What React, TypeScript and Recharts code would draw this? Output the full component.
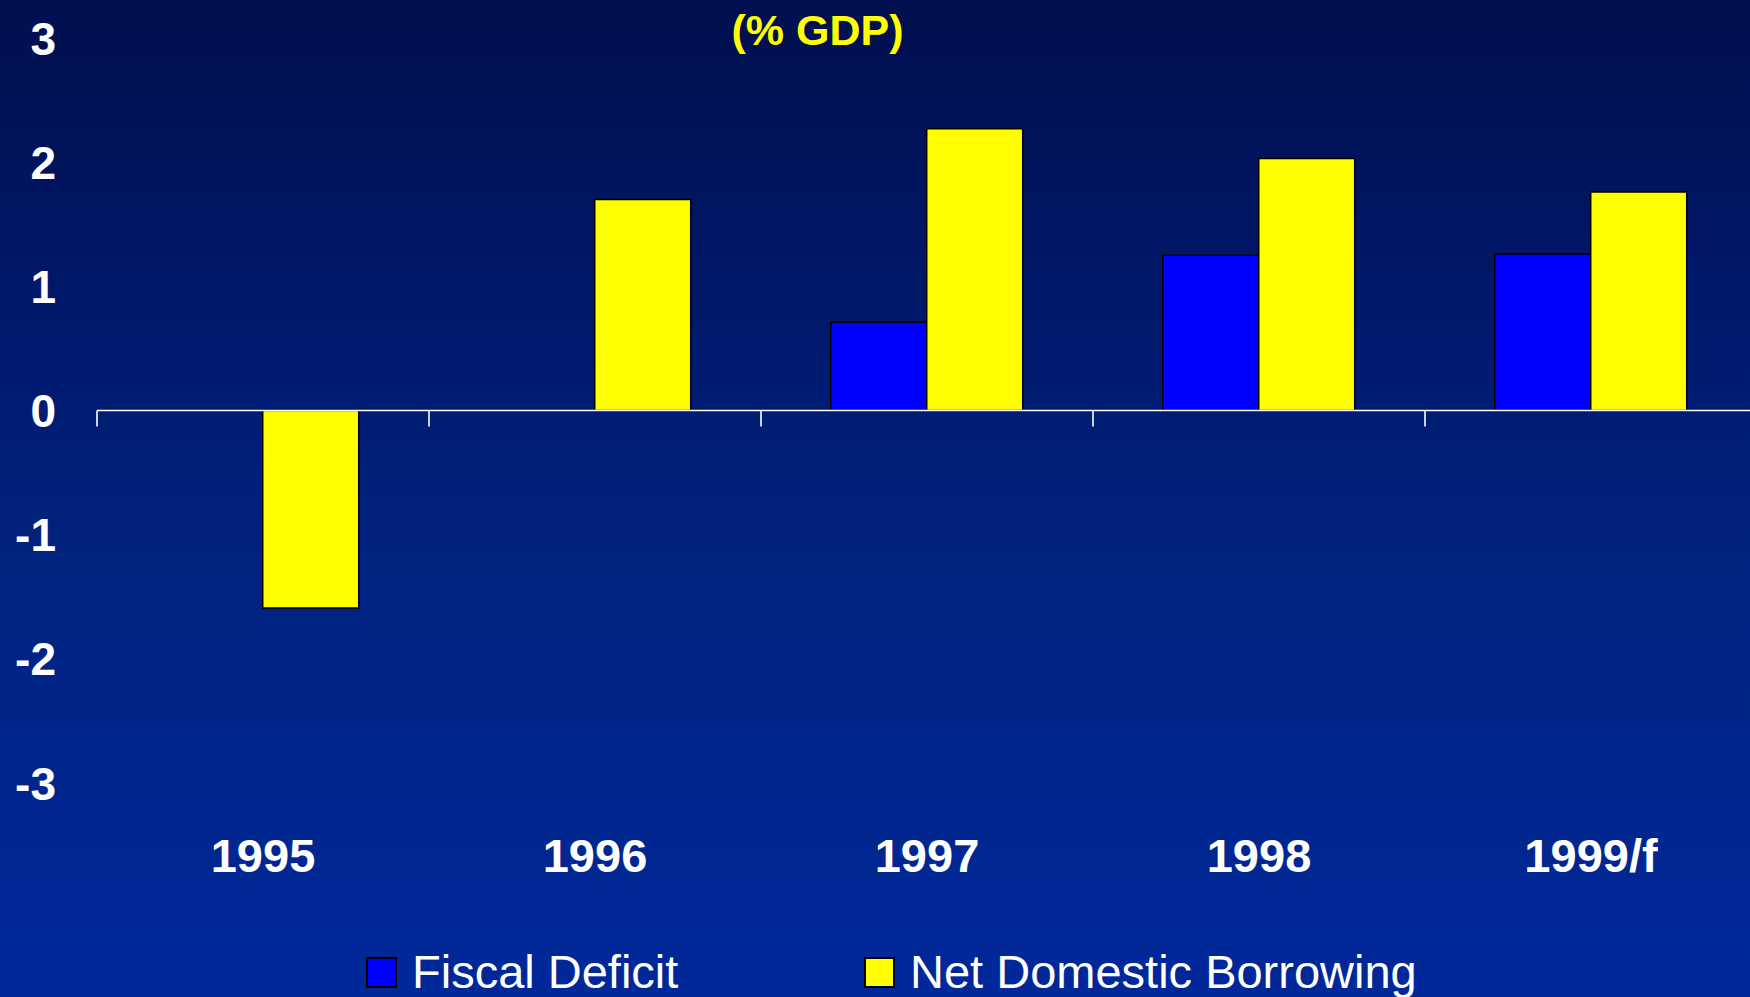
import { Bar, BarChart, Legend, ReferenceLine, XAxis, YAxis } from "recharts";

const years = ["1995", "1996", "1997", "1998", "1999/f"];
const fiscalDeficit = [0, 0, 0.71, 1.25, 1.26];
const netDomesticBorrowing = [-1.59, 1.7, 2.27, 2.03, 1.76];
const yTicks = [-3, -2, -1, 0, 1, 2, 3];

const data = years.map((year, i) => ({
  year,
  fiscal: fiscalDeficit[i],
  borrowing: netDomesticBorrowing[i],
}));

const font = '"Liberation Sans", Arial, sans-serif';

function YTick({ x, y, payload }: any) {
  return (
    <text x={x} y={y} dy="0.36em" textAnchor="end" fill="#fff" fontSize={46} fontWeight="bold" fontFamily={font}>
      {payload.value}
    </text>
  );
}

function XTick({ x, y, payload }: any) {
  return (
    <text x={x} y={y} textAnchor="middle" fill="#fff" fontSize={47} fontWeight="bold" fontFamily={font}>
      {payload.value}
    </text>
  );
}

// zero line with tick marks at the category edges
function ZeroLine({ x1, x2, y1 }: any) {
  const step = (x2 - x1) / years.length;
  return (
    <g>
      <line x1={x1} x2={x2} y1={y1} y2={y1} stroke="#fff" strokeWidth={1.6} />
      {years.map((_, i) => (
        <line key={i} x1={x1 + i * step} x2={x1 + i * step} y1={y1} y2={y1 + 16} stroke="#fff" strokeWidth={1.6} />
      ))}
    </g>
  );
}

function LegendContent({ payload }: any) {
  return (
    <div style={{ display: "flex", alignItems: "center", height: 46, paddingLeft: 366 }}>
      {(payload || []).map((entry: any, i: number) => (
        <div key={entry.value} style={{ display: "flex", alignItems: "center", width: i === 0 ? 498 : "auto" }}>
          <span style={{ width: 27, height: 27, border: "2px solid #000", background: entry.color, display: "inline-block" }} />
          <span style={{ marginLeft: 15, color: "#fff", fontSize: 47, lineHeight: "46px", fontFamily: font, whiteSpace: "nowrap" }}>
            {entry.value}
          </span>
        </div>
      ))}
    </div>
  );
}

export default function App() {
  return (
    <div
      style={{
        position: "absolute",
        left: 0,
        top: 0,
        width: 1750,
        height: 997,
        overflow: "hidden",
        background: "linear-gradient(to bottom, #000f4e 0%, #001a6e 35%, #00237f 55%, #00289a 100%)",
      }}
    >
      <div
        style={{
          position: "absolute",
          left: 0,
          top: 9,
          width: 1635,
          textAlign: "center",
          color: "#ffff00",
          fontSize: 43,
          lineHeight: "43px",
          fontWeight: "bold",
          fontFamily: font,
        }}
      >
        (% GDP)
      </div>
      <BarChart
        width={1750}
        height={997}
        data={data}
        margin={{ top: 38, right: -7, bottom: 0, left: 0 }}
        barCategoryGap="21%"
        barGap={0}
      >
        <XAxis dataKey="year" height={214} axisLine={false} tickLine={false} tickSize={0} tickMargin={89} tick={<XTick />} interval={0} />
        <YAxis
          domain={[-3, 3]}
          ticks={yTicks}
          width={97}
          axisLine={false}
          tickLine={false}
          tickSize={0}
          tickMargin={41}
          tick={<YTick />}
          interval={0}
          allowDataOverflow
        />
        <Bar dataKey="fiscal" name="Fiscal Deficit" fill="#0000ff" stroke="#000" strokeWidth={1.5} isAnimationActive={false} />
        <Bar dataKey="borrowing" name="Net Domestic Borrowing" fill="#ffff00" stroke="#000" strokeWidth={1.5} isAnimationActive={false} />
        <ReferenceLine y={0} shape={<ZeroLine />} />
        <Legend
          verticalAlign="bottom"
          content={<LegendContent />}
          wrapperStyle={{ top: 949, bottom: "auto", left: 0, width: 1750, height: 0 }}
        />
      </BarChart>
    </div>
  );
}
